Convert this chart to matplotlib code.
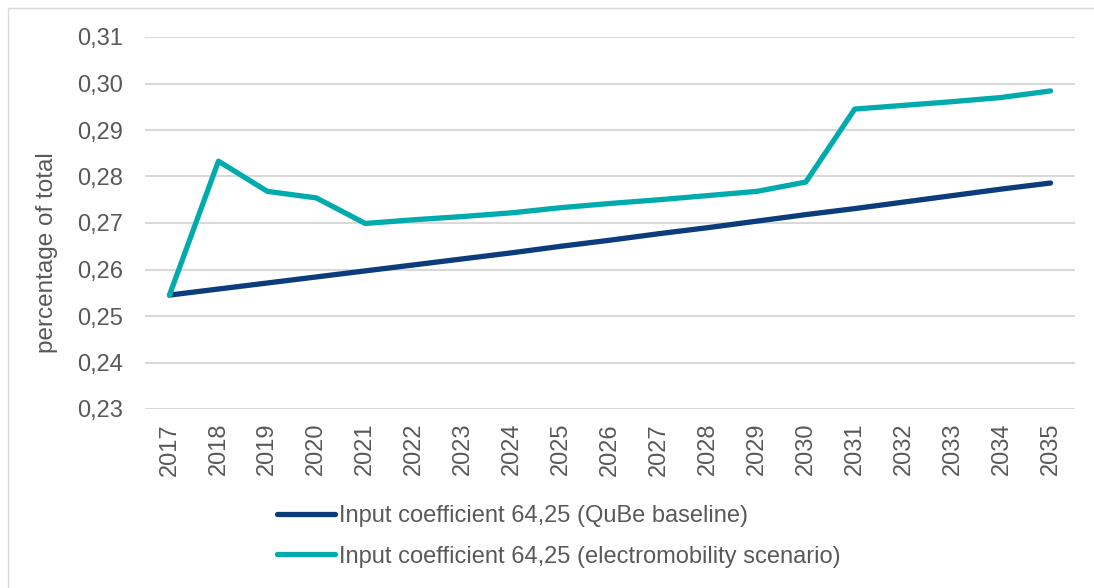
import matplotlib
matplotlib.use("Agg")
import matplotlib.pyplot as plt
from matplotlib.patches import Rectangle
import numpy as np

years = [str(y) for y in range(2017, 2036)]
baseline = [0.2545, 0.2558, 0.2571, 0.2584, 0.2597, 0.2610, 0.2623, 0.2636, 0.2650,
            0.2663, 0.2677, 0.2690, 0.2704, 0.2718, 0.2731, 0.2745, 0.2759, 0.2773, 0.2786]
electro = [0.2545, 0.2833, 0.2768, 0.2754, 0.2699, 0.2707, 0.2714, 0.2722, 0.2733,
           0.2742, 0.2750, 0.2759, 0.2768, 0.2788, 0.2945, 0.2953, 0.2961, 0.2970, 0.2984]
yticks = [0.23, 0.24, 0.25, 0.26, 0.27, 0.28, 0.29, 0.30, 0.31]
labels = ["Input coefficient 64,25 (QuBe baseline)",
          "Input coefficient 64,25 (electromobility scenario)"]
ylabel = "percentage of total"

plt.rcParams['font.family'] = ['Liberation Sans', 'DejaVu Sans']
txt = '#595959'
navy = '#0C3C7C'
teal = '#00ABAE'

W, H = 1094, 588
fig = plt.figure(figsize=(W / 100, H / 100), dpi=100)
fig.patches.append(Rectangle((8 / W, -0.1), 1.2, 1 - 8 / H + 0.1, transform=fig.transFigure,
                             fill=False, edgecolor='#d9d9d9', linewidth=1.0))

ax = fig.add_axes([145 / W, 1 - 409 / H, (1075 - 145) / W, (409 - 37) / H])
x = np.arange(len(years))
l1, = ax.plot(x, baseline, color=navy, lw=3.8, solid_capstyle='round', solid_joinstyle='round')
l2, = ax.plot(x, electro, color=teal, lw=3.8, solid_capstyle='round', solid_joinstyle='round')

ax.set_xlim(-0.5, len(years) - 0.5)
ax.set_ylim(0.23, 0.31)
ax.set_yticks(yticks)
ax.set_yticklabels([f"{v:.2f}".replace('.', ',') for v in yticks])
ax.set_xticks(x)
ax.set_xticklabels(years, rotation=90)
ax.tick_params(axis='y', length=0, pad=16, labelsize=17, labelcolor=txt)
ax.tick_params(axis='x', length=0, pad=10, labelsize=17, labelcolor=txt)
ax.grid(axis='y', color='#d9d9d9', lw=1.5)
ax.set_axisbelow(True)
for s in ax.spines.values():
    s.set_visible(False)

fig.text(47 / W, 1 - 253 / H, ylabel, rotation=90, ha='center', va='center',
         fontsize=17.5, color=txt)

leg = fig.legend([l1, l2], labels, loc='upper left', bbox_to_anchor=(270 / W, 1 - 498 / H),
                 frameon=False, fontsize=17, handlelength=2.45, handletextpad=0.17,
                 labelspacing=0.78, borderaxespad=0, borderpad=0.3)
for t in leg.get_texts():
    t.set_color(txt)

fig.savefig("out.png", dpi=100)
